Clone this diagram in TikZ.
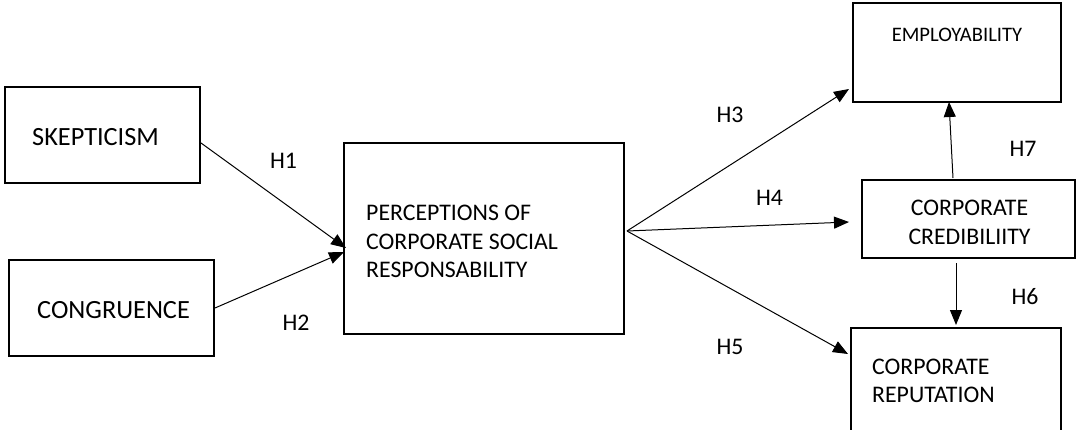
\documentclass[tikz,border=0pt]{standalone}
\usepackage{fontspec}
\setmainfont{Carlito}
\usetikzlibrary{arrows.meta}

\tikzset{
  box/.style={draw, line width=2pt, inner sep=0pt, minimum width=#1},
  txt/.style={inner sep=0pt, font=\fontsize{23.8}{28.5}\selectfont},
  bigtxt/.style={inner sep=0pt, font=\fontsize{26.3}{31}\selectfont},
  smalltxt/.style={inner sep=0pt, font=\fontsize{20.6}{25}\selectfont},
  link/.style={line width=1pt, -{Triangle[length=15pt,width=12pt]}},
}

\begin{document}
\begin{tikzpicture}[x=1pt, y=-1pt]
  \useasboundingbox (0,0) rectangle (1077,429);
  \clip (0,0) rectangle (1077,429);

  % boxes
  \node[box=195pt, minimum height=96pt]  (skep) at (102.5,135)  {};
  \node[box=205pt, minimum height=96pt]  (cong) at (111.5,308)  {};
  \node[box=280pt, minimum height=191pt] (perc) at (484,238.5)  {};
  \node[box=208pt, minimum height=99pt]  (empl) at (957,52.5)   {};
  \node[box=213pt, minimum height=78pt]  (cred) at (968.5,219)  {};
  \node[box=210pt, minimum height=117pt] (rept) at (956,386.5)  {};

  % box texts
  \node[bigtxt, anchor=base west] (skep-t) at (32,145.3)  {SKEPTICISM};
  \node[bigtxt, anchor=base west] (cong-t) at (37,318.3)  {CONGRUENCE};
  \node[txt, anchor=base west] (perc-t1) at (366,220.5) {PERCEPTIONS OF};
  \node[txt, anchor=base west] (perc-t2) at (366,249)   {CORPORATE SOCIAL};
  \node[txt, anchor=base west] (perc-t3) at (366,277.5) {RESPONSABILITY};
  \node[smalltxt, anchor=base] (empl-t) at (957,41.5)   {EMPLOYABILITY};
  \node[txt, anchor=base] (cred-t1) at (969.5,215.5) {CORPORATE};
  \node[txt, anchor=base] (cred-t2) at (969.5,244.5) {CREDIBILIITY};
  \node[txt, anchor=base west] (rept-t1) at (872,374.5) {CORPORATE};
  \node[txt, anchor=base west] (rept-t2) at (872,402.5) {REPUTATION};

  % hypothesis labels
  \node[txt, anchor=base] (h1) at (283.5,168.2) {H1};
  \node[txt, anchor=base] (h2) at (296,330.5)   {H2};
  \node[txt, anchor=base] (h3) at (730,122.5)   {H3};
  \node[txt, anchor=base] (h4) at (769.5,205.5) {H4};
  \node[txt, anchor=base] (h5) at (730,354.5)   {H5};
  \node[txt, anchor=base] (h6) at (1025,304.5)  {H6};
  \node[txt, anchor=base] (h7) at (1023,156.5)  {H7};

  % hypothesised paths
  \draw[link] ([yshift=-8pt]skep.east) -- ([xshift=3pt,yshift=-9.5pt]perc.west);
  \draw[link] (cong.east) -- ([xshift=1pt,yshift=-13.5pt]perc.west);
  \draw[link] ([xshift=2pt,yshift=7.5pt]perc.east) -- ([xshift=-3pt,yshift=14pt]empl.south west);
  \draw[link] ([xshift=2pt,yshift=7.5pt]perc.east) -- ([xshift=-12pt,yshift=-3pt]cred.west);
  \draw[link] ([xshift=2pt,yshift=7.5pt]perc.east) -- ([xshift=-2pt,yshift=-27pt]rept.north west);
  \draw[link] ([xshift=-15.5pt,yshift=1pt]cred.north) -- ([xshift=-8pt,yshift=1pt]empl.south);
  \draw[link] ([xshift=-12.5pt,yshift=-4pt]cred.south) -- ([yshift=2pt]rept.north);
\end{tikzpicture}
\end{document}
